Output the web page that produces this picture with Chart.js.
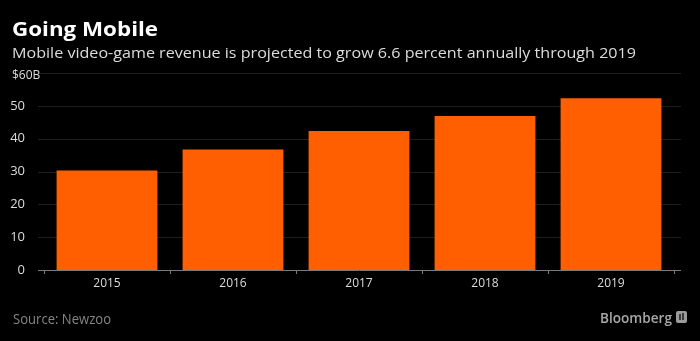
<!DOCTYPE html>
<html>
<head>
<meta charset="utf-8">
<script src="https://cdn.jsdelivr.net/npm/chart.js@4/dist/chart.umd.min.js"></script>
<style>
  html, body { margin: 0; padding: 0; background: #000; }
  #wrap { width: 700px; height: 341px; }
</style>
</head>
<body>
<div id="wrap"><canvas id="chart" width="700" height="341"></canvas></div>
<script>
// data (billions of dollars)
const years = ['2015', '2016', '2017', '2018', '2019'];
const revenue = [30.3, 36.7, 42.3, 46.9, 52.3];
const yTicks = [0, 10, 20, 30, 40, 50, 60];

const titleText = 'Going Mobile';
const subtitleText = 'Mobile video-game revenue is projected to grow 6.6 percent annually through 2019';
const sourceText = 'Source: Newzoo';
const brandText = 'Bloomberg';

const FONT = '"Open Sans", "Liberation Sans", sans-serif';

// draws text squeezed/stretched to a target width
function fitText(ctx, text, x, y, w, font, color) {
    ctx.font = font;
    const m = ctx.measureText(text).width;
    ctx.save();
    ctx.translate(x, y);
    ctx.scale(w / m, 1);
    ctx.fillStyle = color;
    ctx.textAlign = 'left';
    ctx.textBaseline = 'alphabetic';
    ctx.fillText(text, 0, 0);
    ctx.restore();
}

// background, gridlines, axis line
const backdrop = {
    id: 'backdrop',
    beforeDraw(chart) {
        const ctx = chart.ctx;
        ctx.save();
        ctx.fillStyle = '#000';
        ctx.fillRect(0, 0, chart.width, chart.height);
        ctx.restore();
    },
    beforeDatasetsDraw(chart) {
        const ctx = chart.ctx;
        const y = chart.scales.y;
        const area = chart.chartArea;
        ctx.save();
        yTicks.forEach(v => {
            if (v === 0) return;
            const py = Math.round(y.getPixelForValue(v)) + 0.5;
            ctx.strokeStyle = '#1f1f1f';
            ctx.lineWidth = 1;
            ctx.beginPath();
            ctx.moveTo(area.left - 6, py);
            ctx.lineTo(area.right + 7, py);
            ctx.stroke();
        });
        ctx.restore();
    },
    afterDatasetsDraw(chart) {
        const ctx = chart.ctx;
        const y = chart.scales.y;
        const area = chart.chartArea;
        const py = Math.round(y.getPixelForValue(0)) + 0.5;
        ctx.save();
        ctx.strokeStyle = '#7a7a7a';
        ctx.lineWidth = 1;
        ctx.beginPath();
        ctx.moveTo(area.left - 6, py);
        ctx.lineTo(area.right + 7, py);
        ctx.stroke();
        ctx.restore();
    },
    afterDraw(chart) {
        const ctx = chart.ctx;
        const y = chart.scales.y;

        fitText(ctx, titleText, 12, 36, 146, 'bold 19px ' + FONT, '#ffffff');
        fitText(ctx, subtitleText, 12, 58, 624, '15px ' + FONT, '#dcdcdc');

        // top tick carries the unit
        ctx.save();
        ctx.font = '12px ' + FONT;
        ctx.fillStyle = '#dcdcdc';
        ctx.textBaseline = 'middle';
        ctx.textAlign = 'left';
        ctx.fillText('$60B', 12, y.getPixelForValue(60) + 3);
        ctx.restore();

        fitText(ctx, sourceText, 13, 324, 98, '14px ' + FONT, '#858585');
        fitText(ctx, brandText, 600, 323, 72, '600 15px ' + FONT, '#a8a8a8');

        // small logo mark next to the brand name
        ctx.save();
        ctx.fillStyle = '#9a9a9a';
        ctx.beginPath();
        ctx.roundRect(676, 311, 11, 12, 2);
        ctx.fill();
        ctx.fillStyle = '#3a3a3a';
        ctx.fillRect(679, 314, 2, 6);
        ctx.fillRect(682, 313, 2, 7);
        ctx.restore();
    }
};

new Chart(document.getElementById('chart'), {
    type: 'bar',
    data: {
        labels: years,
        datasets: [{
            data: revenue,
            backgroundColor: '#ff5f00',
            borderWidth: 0,
            barPercentage: 0.8,
            categoryPercentage: 1.0
        }]
    },
    options: {
        responsive: false,
        animation: false,
        devicePixelRatio: 1,
        layout: { padding: { top: 73, right: 26, left: 0, bottom: 0 } },
        plugins: {
            legend: { display: false },
            tooltip: { enabled: false }
        },
        scales: {
            x: {
                afterFit: s => { s.height = 71; },
                grid: { drawOnChartArea: false, drawTicks: true, tickLength: 4, color: '#7a7a7a' },
                border: { display: false },
                ticks: { color: '#dcdcdc', font: { family: FONT, size: 12 }, padding: 2 }
            },
            y: {
                min: 0,
                max: 60,
                afterFit: s => { s.width = 44; },
                afterBuildTicks: s => { s.ticks = yTicks.map(v => ({ value: v })); },
                grid: { display: false },
                border: { display: false },
                ticks: {
                    color: '#dcdcdc',
                    font: { family: FONT, size: 13 },
                    padding: 11,
                    callback: v => (v === 60 ? '' : String(v))
                }
            }
        }
    },
    plugins: [backdrop]
});
</script>
</body>
</html>
